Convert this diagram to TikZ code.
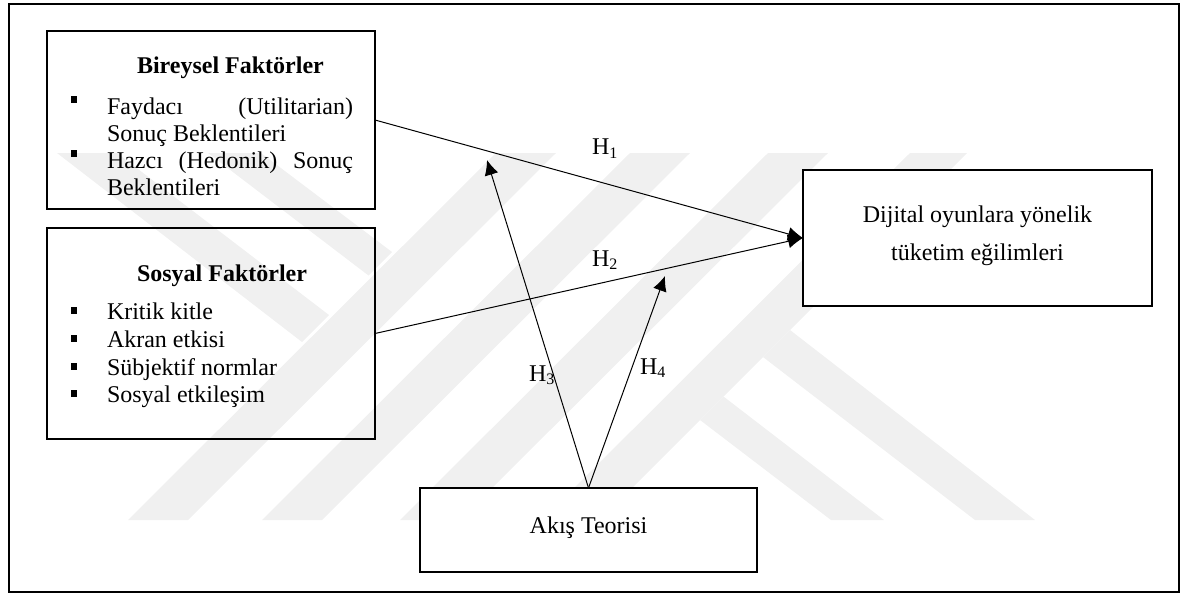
\documentclass[tikz,border=0pt]{standalone}
\usepackage{fontspec}
\setmainfont{Liberation Serif}
\usetikzlibrary{arrows.meta}
\tikzset{
  box/.style={draw, line width=1pt, inner sep=0pt, outer sep=0pt},
  txt/.style={inner sep=0pt, outer sep=0pt, font=\fontsize{12}{14}\selectfont},
  hyp/.style={draw, line width=0.5pt, -{Latex[length=7.5pt,width=7pt]}},
  bul/.style={fill=black, inner sep=0pt, minimum width=3pt, minimum height=3.5pt},
  wm/.style={fill=black!6, draw=none},
}
\begin{document}
\begin{tikzpicture}[x=0.5pt,y=-0.5pt]
\useasboundingbox (0,0) rectangle (1180,594);
% watermark (faint)
\fill[wm] (128,520) -- (188,520) -- (556,153) -- (496,153) -- cycle;
\fill[wm] (262,520) -- (322,520) -- (690,153) -- (630,153) -- cycle;
\fill[wm] (400,520) -- (460,520) -- (828,153) -- (768,153) -- cycle;
\fill[wm] (542,520) -- (600,520) -- (967,153) -- (910,153) -- cycle;
\fill[wm] (975,520) -- (1035,520) -- (790,330) -- (763,357) -- cycle;
\fill[wm] (831,520) -- (884,520) -- (723.5,396.5) -- (700,420) -- cycle;
\fill[wm] (117,153) -- (57,153) -- (302,342) -- (329,315) -- cycle;
\fill[wm] (261,153) -- (208,153) -- (368.5,275.5) -- (392,252) -- cycle;
% outer frame
\draw[line width=0.7pt] (9,4) rectangle (1179,592);
% boxes
\node[box, minimum width=164pt, minimum height=89pt] (b1) at (211,120) {};
\node[box, minimum width=164pt, minimum height=105.5pt] (b2) at (211,333.5) {};
\node[box, fill=white, minimum width=174.5pt, minimum height=68pt] (b3) at (977.5,238) {};
\node[box, fill=white, minimum width=168.5pt, minimum height=42pt] (b4) at (588.5,530) {};
% box 1 text
\node[txt, anchor=base west, font=\fontsize{12}{14}\selectfont\bfseries] (t1) at (137,73) {Bireysel Faktörler};
\node[bul] (u1) at (73.5,99) {};
\node[txt, anchor=base west] (t1a) at (107,114) {\makebox[123pt][l]{Faydacı\hfill(Utilitarian)}};
\node[txt, anchor=base west] (t1b) at (107,141) {Sonuç Beklentileri};
\node[bul] (u2) at (73.5,153) {};
\node[txt, anchor=base west] (t1c) at (107,168) {\makebox[123pt][l]{Hazcı\hfill(Hedonik)\hfill Sonuç}};
\node[txt, anchor=base west] (t1d) at (107,195) {Beklentileri};
% box 2 text
\node[txt, anchor=base west, font=\fontsize{12}{14}\selectfont\bfseries] (t2) at (137,281) {Sosyal Faktörler};
\node[bul] (u3) at (73.5,310.5) {};
\node[txt, anchor=base west] (t2a) at (107,319) {Kritik kitle};
\node[bul] (u4) at (73.5,338.5) {};
\node[txt, anchor=base west] (t2b) at (107,347) {Akran etkisi};
\node[bul] (u5) at (73.5,366.5) {};
\node[txt, anchor=base west] (t2c) at (107,375) {Sübjektif normlar};
\node[bul] (u6) at (73.5,393.5) {};
\node[txt, anchor=base west] (t2d) at (107,402) {Sosyal etkileşim};
% box 3 text
\node[txt, anchor=base] (t3a) at (977.5,222) {Dijital oyunlara yönelik};
\node[txt, anchor=base] (t3b) at (977.5,260) {tüketim eğilimleri};
% box 4 text
\node[txt, anchor=base] (t4) at (588.5,533) {Akış Teorisi};
% connectors
\coordinate (e3) at (487,160);
\coordinate (e4) at (665,276);
\draw[hyp] (b1.east) -- (b3.west);
\draw[hyp] (b2.east) -- (b3.west);
\draw[hyp] (b4.north) -- (e3);
\draw[hyp] (b4.north) -- (e4);
% labels
\node[txt, anchor=base west] (h1) at (592,155) {H\textsubscript{1}};
\node[txt, anchor=base west] (h2) at (592,266) {H\textsubscript{2}};
\node[txt, anchor=base west] (h3) at (529,381) {H\textsubscript{3}};
\node[txt, anchor=base west] (h4) at (640,374) {H\textsubscript{4}};
\end{tikzpicture}
\end{document}
